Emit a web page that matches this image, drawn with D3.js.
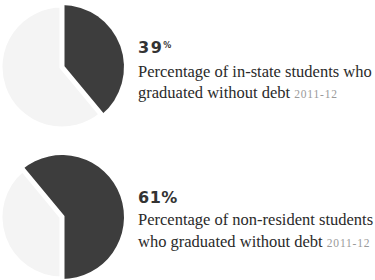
<!DOCTYPE html>
<html>
<head>
<meta charset="utf-8">
<script src="https://cdn.jsdelivr.net/npm/d3@7/dist/d3.min.js"></script>
<style>
html,body{margin:0;padding:0;background:#fff;}
svg{display:block;}
</style>
</head>
<body>
<svg id="c" width="375" height="280"></svg>
<script>
const groups = ["in-state", "non-resident"];
const withoutDebt = [39, 61];
const pctLabels = ["39", "61"];
const line1 = ["Percentage of in-state students who", "Percentage of non-resident students"];
const line2 = ["graduated without debt", "who graduated without debt"];
const yearLabels = ["2011-12", "2011-12"];

const svg = d3.select("#c");

const r = 62;
const cx = 62;
const pieCenters = [67, 217];
const textX = 138;
const baselines = [[53, 77, 98], [203, 225, 247]];

const colorDark = "#3d3d3d", colorLight = "#f4f4f4";

groups.forEach((g, i) => {
  const v = withoutDebt[i];
  const share = v / 100;
  const start = i === 0 ? 0 : Math.PI - share * 2 * Math.PI;
  const pie = d3.pie().sort(null).startAngle(start).endAngle(start + 2 * Math.PI);
  const arcs = pie([v, 100 - v]);
  const arc = d3.arc().innerRadius(0).outerRadius(r);
  const gp = svg.append("g").attr("transform", `translate(${cx},${pieCenters[i]})`);
  gp.selectAll("path").data(arcs).join("path")
    .attr("d", arc)
    .attr("fill", (d, j) => j === 0 ? colorDark : colorLight)
    .attr("stroke", "#fff")
    .attr("stroke-width", (d, j) => j === 0 ? 0 : 5);

  const b = baselines[i];
  const t = svg.append("text").attr("x", textX).attr("y", b[0])
    .attr("font-family", "DejaVu Sans").attr("font-weight", 700).attr("font-size", 16)
    .attr("letter-spacing", i === 0 ? 1.5 : 0.5)
    .attr("fill", "#333");
  t.append("tspan").text(pctLabels[i]);
  if (i === 0) {
    t.append("tspan").text("%").attr("font-size", 8).attr("dy", -5).attr("letter-spacing", 0);
  } else {
    t.append("tspan").text("%");
  }

  svg.append("text").attr("x", textX).attr("y", b[1])
    .attr("font-family", "Liberation Serif").attr("font-size", 16.5).attr("fill", "#2a2a2a")
    .text(line1[i]);
  const t2 = svg.append("text").attr("x", textX).attr("y", b[2])
    .attr("font-family", "Liberation Serif").attr("font-size", 16.5).attr("fill", "#2a2a2a");
  t2.append("tspan").text(line2[i] + " ");
  t2.append("tspan").text(yearLabels[i]).attr("font-size", 11.5).attr("fill", "#9a9a9a").attr("letter-spacing", 0.8);
});
</script>
</body>
</html>
